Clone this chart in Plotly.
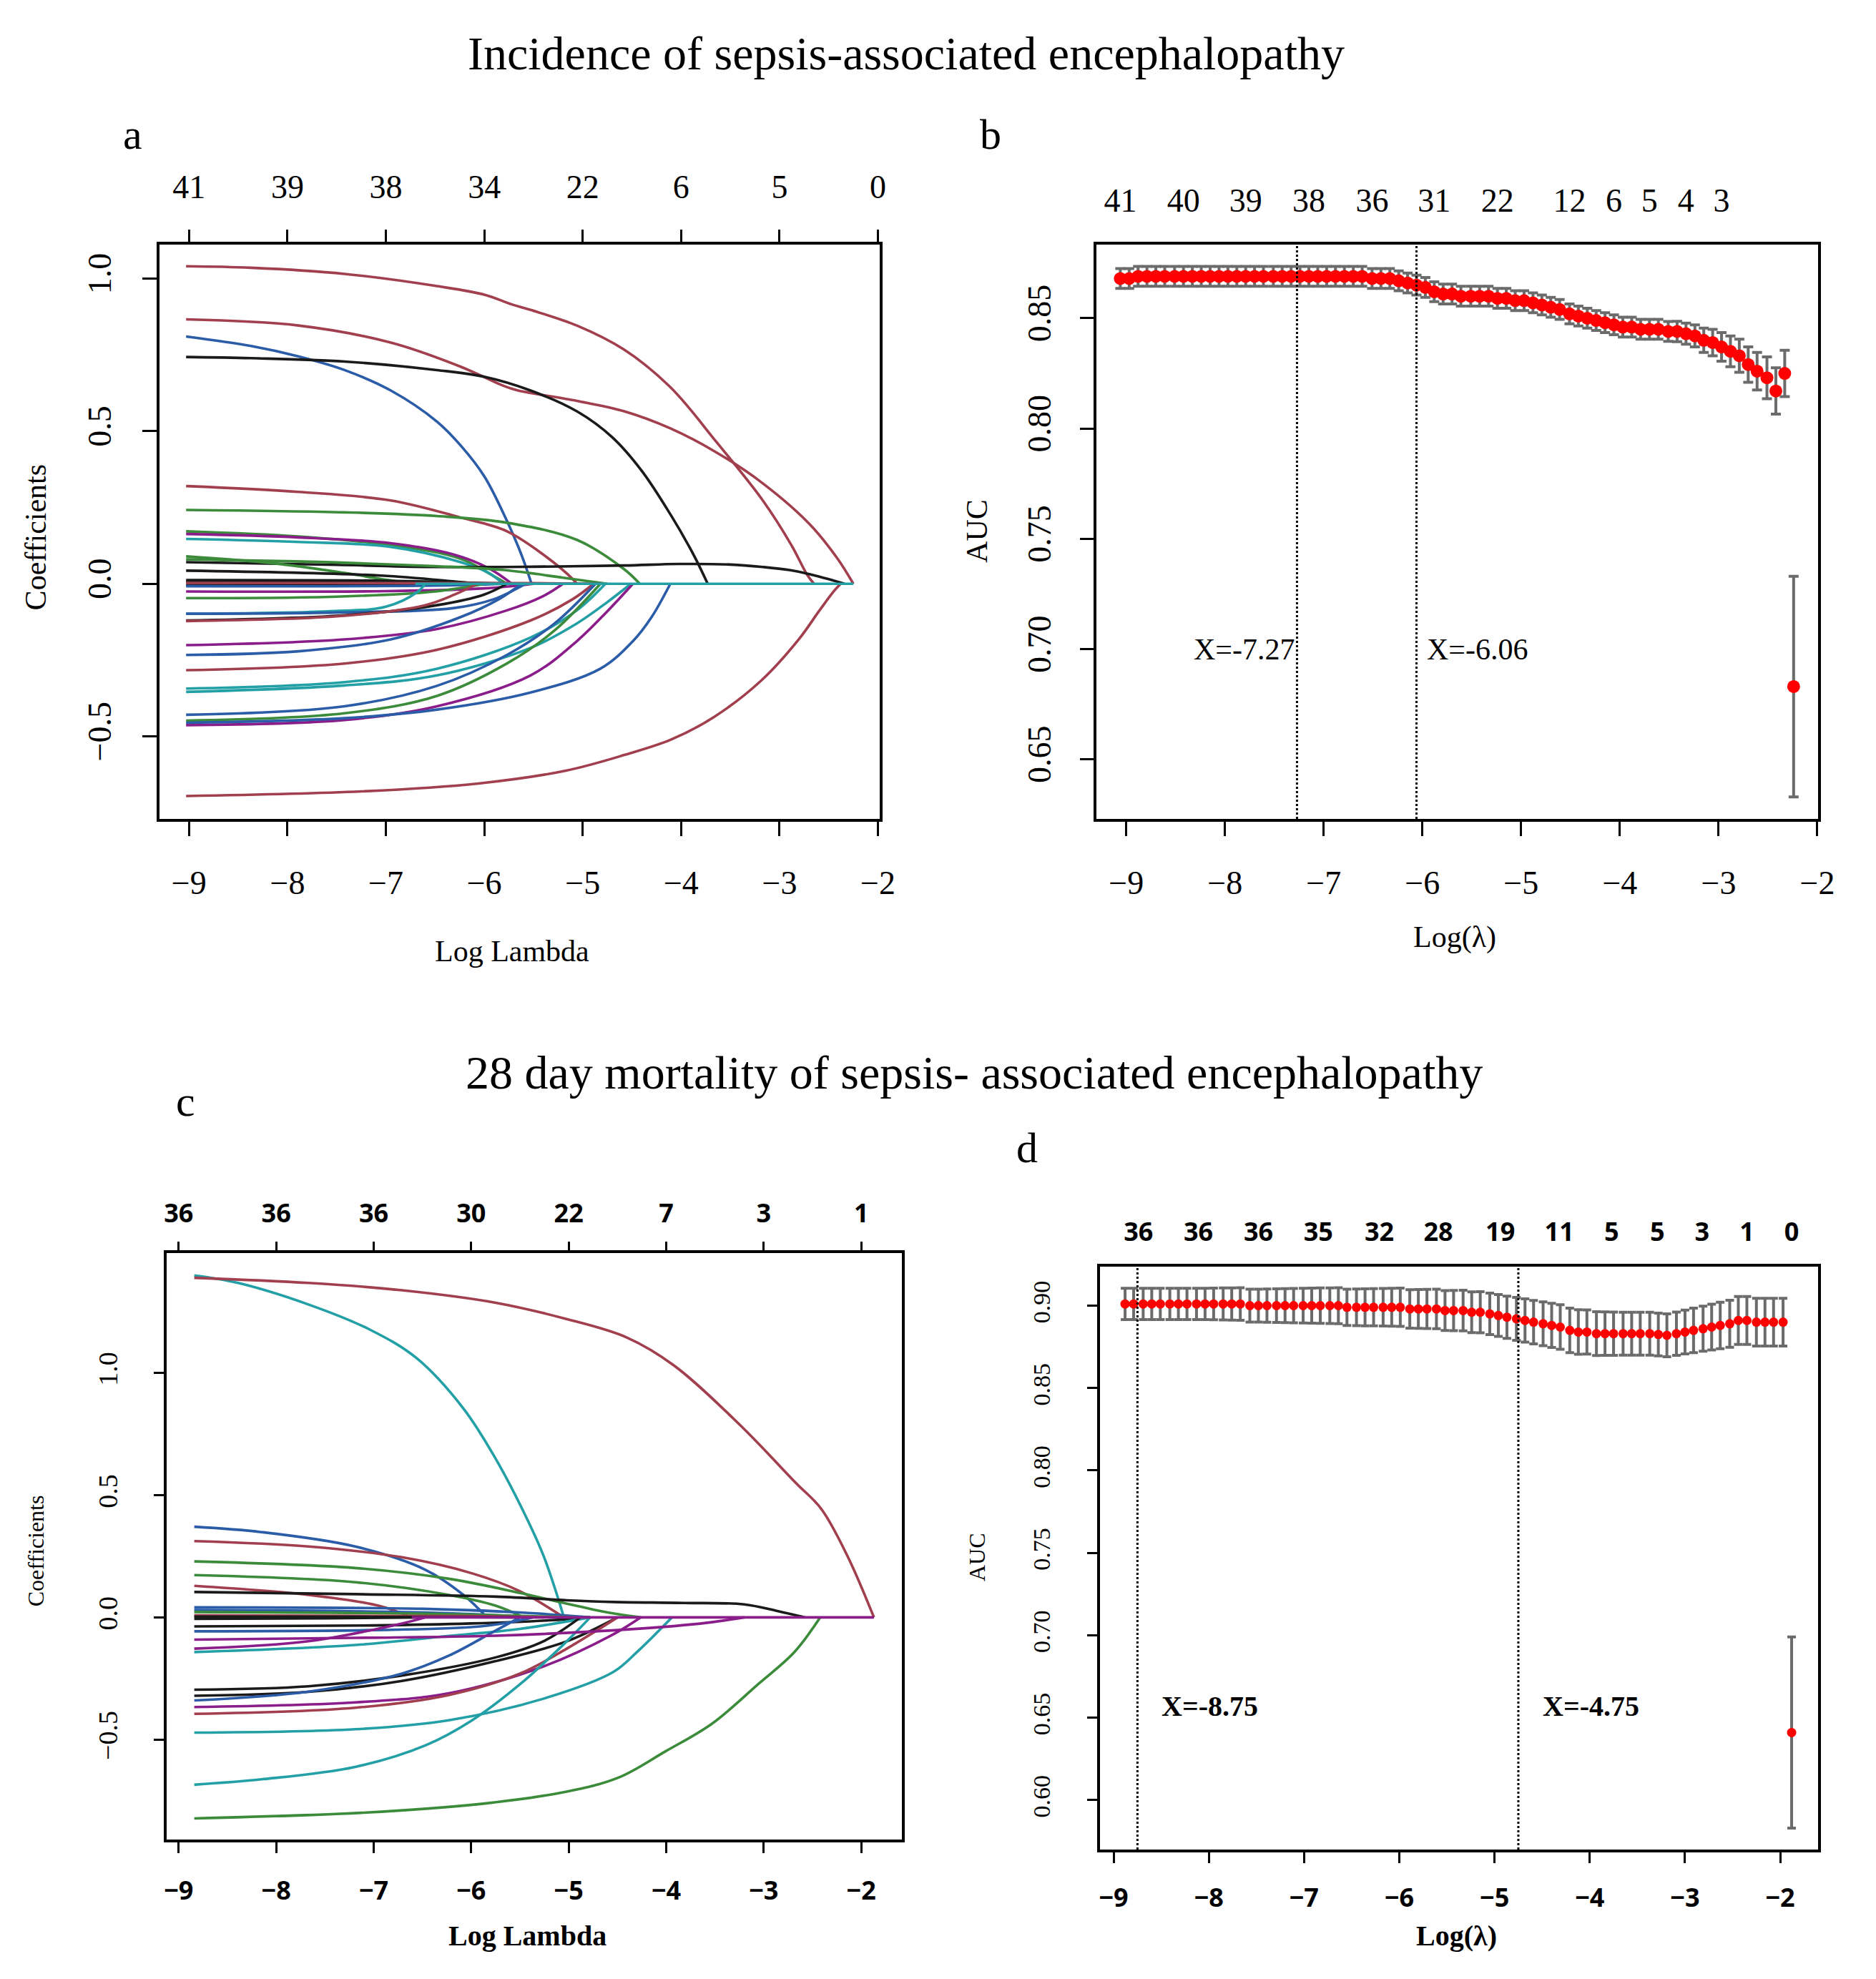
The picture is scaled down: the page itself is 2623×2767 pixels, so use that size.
import plotly.graph_objects as go

# ---------------- colours used by the coefficient paths ----------------
K = "#1a1a1a"
R = "#a23f4e"
G = "#3b8b3b"
B = "#2b5ca8"
C = "#23a0a6"
P = "#8a1d8a"

# ---------------- panel a: coefficient paths, incidence ----------------
loglam_end_a = -2.25
top_at_a = [-9, -8, -7, -6, -5, -4, -3, -2]
top_nz_a = ["41", "39", "38", "34", "22", "6", "5", "0"]
coef_paths_a = [
    (R, [-9.03, -8.37, -7.42, -6.48, -6.0, -5.72, -5.53, -5.06, -4.58, -4.11, -3.64, -3.17, -2.88, -2.72, -2.65],
        [1.04, 1.035, 1.015, 0.975, 0.947, 0.915, 0.897, 0.846, 0.767, 0.644, 0.464, 0.273, 0.127, 0.03, 0]),
    (R, [-9.03, -7.89, -6.95, -6.24, -5.81, -5.67, -5.06, -4.58, -4.11, -3.64, -3.17, -2.69, -2.41, -2.25],
        [0.866, 0.846, 0.79, 0.711, 0.649, 0.634, 0.599, 0.565, 0.509, 0.43, 0.329, 0.194, 0.082, 0]),
    (B, [-9.03, -8.37, -7.89, -7.42, -6.95, -6.48, -6.24, -6.0, -5.77, -5.62, -5.52],
        [0.81, 0.779, 0.745, 0.70, 0.633, 0.531, 0.453, 0.352, 0.206, 0.093, 0]),
    (K, [-9.03, -8.37, -7.42, -6.48, -6.0, -5.53, -5.06, -4.7, -4.4, -4.11, -3.87, -3.73],
        [0.743, 0.739, 0.728, 0.70, 0.678, 0.633, 0.565, 0.48, 0.37, 0.228, 0.093, 0]),
    (R, [-9.03, -7.89, -6.95, -6.24, -5.77, -5.39, -5.1, -5.06],
        [0.32, 0.301, 0.273, 0.217, 0.172, 0.093, 0.015, 0]),
    (G, [-9.03, -7.42, -6.48, -5.77, -5.06, -4.58, -4.42],
        [0.242, 0.234, 0.222, 0.2, 0.144, 0.048, 0]),
    (G, [-9.03, -7.89, -6.95, -6.24, -5.91, -5.77],
        [0.172, 0.155, 0.127, 0.082, 0.026, 0]),
    (P, [-9.03, -7.89, -6.95, -6.3, -5.95, -5.72],
        [0.163, 0.152, 0.133, 0.095, 0.05, 0]),
    (C, [-9.03, -7.89, -6.95, -6.24, -5.95, -5.81],
        [0.147, 0.137, 0.121, 0.071, 0.035, 0]),
    (K, [-9.03, -7.5, -6.48, -5.5, -4.58, -4.02, -3.5, -3.17, -2.9, -2.69, -2.5, -2.34],
        [0.071, 0.062, 0.055, 0.056, 0.06, 0.065, 0.063, 0.055, 0.045, 0.031, 0.015, 0]),
    (G, [-9.03, -8.14, -7.41, -7.05, -6.7],
        [0.09, 0.067, 0.035, 0.016, 0]),
    (G, [-9.03, -7.5, -6.5, -5.8, -5.2, -4.75],
        [0.08, 0.07, 0.058, 0.045, 0.02, 0]),
    (K, [-9.03, -7.05, -6.32, -6.07],
        [0.043, 0.027, 0.008, 0]),
    (K, [-9.03, -7.0, -6.2, -5.8],
        [0.012, 0.01, 0.004, 0]),
    (K, [-9.03, -6.5, -5.5],
        [0.006, 0.004, 0]),
    (K, [-9.03, -7.0, -6.0],
        [-0.004, -0.003, 0]),
    (R, [-9.03, -5.5, -4.8],
        [0.003, 0.002, 0]),
    (B, [-9.03, -6.5, -5.8],
        [-0.008, -0.006, 0]),
    (P, [-9.03, -7.0, -6.0, -5.5],
        [-0.025, -0.024, -0.015, 0]),
    (G, [-9.03, -7.5, -6.5, -6.0],
        [-0.047, -0.042, -0.025, 0]),
    (C, [-9.03, -7.6, -7.0, -6.68, -6.6],
        [-0.098, -0.09, -0.075, -0.027, 0]),
    (B, [-9.03, -7.5, -6.32, -5.9, -5.58],
        [-0.098, -0.094, -0.08, -0.05, 0]),
    (K, [-9.03, -7.42, -6.48, -6.0, -5.77],
        [-0.12, -0.103, -0.07, -0.035, 0]),
    (R, [-9.03, -7.42, -6.6, -6.3, -6.07],
        [-0.122, -0.105, -0.07, -0.035, 0]),
    (P, [-9.03, -7.42, -6.48, -5.77, -5.4, -5.2],
        [-0.201, -0.182, -0.148, -0.087, -0.04, 0]),
    (B, [-9.03, -7.89, -6.95, -6.24, -5.85, -5.62],
        [-0.233, -0.221, -0.182, -0.109, -0.05, 0]),
    (R, [-9.03, -7.42, -6.48, -5.53, -5.1, -4.89],
        [-0.283, -0.261, -0.216, -0.12, -0.05, 0]),
    (C, [-9.03, -7.42, -6.48, -5.53, -5.06, -4.77],
        [-0.343, -0.322, -0.278, -0.176, -0.087, 0]),
    (C, [-9.03, -7.42, -6.48, -5.53, -5.06, -4.75, -4.51],
        [-0.354, -0.333, -0.30, -0.21, -0.13, -0.06, 0]),
    (B, [-9.03, -7.42, -6.48, -5.77, -5.29, -4.87],
        [-0.429, -0.401, -0.334, -0.233, -0.131, 0]),
    (G, [-9.03, -7.42, -6.48, -5.77, -5.29, -4.82],
        [-0.448, -0.424, -0.367, -0.261, -0.154, 0]),
    (P, [-9.03, -7.42, -6.48, -5.53, -5.06, -4.75, -4.49],
        [-0.463, -0.446, -0.401, -0.30, -0.188, -0.09, 0]),
    (B, [-9.03, -7.42, -6.48, -5.53, -4.82, -4.49, -4.3, -4.11],
        [-0.455, -0.44, -0.412, -0.356, -0.278, -0.188, -0.109, 0]),
    (R, [-9.03, -7.25, -6.06, -5.17, -4.57, -4.1, -3.66, -3.18, -2.8, -2.6, -2.45, -2.38],
        [-0.695, -0.68, -0.654, -0.612, -0.56, -0.51, -0.435, -0.315, -0.18, -0.09, -0.025, 0]),
]

# ---------------- panel b: cross-validated AUC, incidence ----------------
loglam_b = [-9.06, -8.97, -8.88, -8.79, -8.70, -8.61, -8.51, -8.42, -8.33, -8.24,
            -8.15, -8.06, -7.97, -7.88, -7.79, -7.70, -7.61, -7.51, -7.42, -7.33,
            -7.24, -7.15, -7.06, -6.97, -6.88, -6.79, -6.70, -6.61, -6.51, -6.42,
            -6.33, -6.24, -6.15, -6.06, -5.97, -5.88, -5.79, -5.70, -5.61, -5.51,
            -5.42, -5.33, -5.24, -5.15, -5.06, -4.97, -4.88, -4.79, -4.70, -4.61,
            -4.51, -4.42, -4.33, -4.24, -4.15, -4.06, -3.97, -3.88, -3.79, -3.70,
            -3.61, -3.51, -3.42, -3.33, -3.24, -3.15, -3.06, -2.97, -2.88, -2.79,
            -2.70, -2.61, -2.51, -2.42, -2.33, -2.24]
auc_b = [0.868, 0.868, 0.869, 0.869, 0.869, 0.869, 0.869, 0.869, 0.869, 0.869,
         0.869, 0.869, 0.869, 0.869, 0.869, 0.869, 0.869, 0.869, 0.869, 0.869,
         0.869, 0.869, 0.869, 0.869, 0.869, 0.869, 0.869, 0.869, 0.868, 0.868,
         0.868, 0.867, 0.866, 0.865, 0.864, 0.862, 0.861, 0.861, 0.860, 0.860,
         0.860, 0.860, 0.859, 0.859, 0.858, 0.858, 0.857, 0.856, 0.855, 0.854,
         0.852, 0.851, 0.850, 0.849, 0.848, 0.847, 0.846, 0.846, 0.845, 0.845,
         0.845, 0.844, 0.844, 0.843, 0.842, 0.840, 0.839, 0.837, 0.835, 0.833,
         0.829, 0.826, 0.823, 0.817, 0.825, 0.683]
se_b = [0.0045, 0.0045, 0.0045, 0.0045, 0.0045, 0.0045, 0.0045, 0.0045, 0.0045, 0.0045,
        0.0045, 0.0045, 0.0045, 0.0045, 0.0045, 0.0045, 0.0045, 0.0045, 0.0045, 0.0045,
        0.0045, 0.0045, 0.0045, 0.0045, 0.0045, 0.0045, 0.0045, 0.0045, 0.0045, 0.0045,
        0.0045, 0.0045, 0.0045, 0.0045, 0.0045, 0.0045, 0.0045, 0.0045, 0.0045, 0.0045,
        0.0045, 0.0045, 0.0045, 0.0045, 0.0045, 0.0045, 0.0045, 0.0045, 0.0045, 0.0045,
        0.0045, 0.0045, 0.0045, 0.0045, 0.0045, 0.0045, 0.0045, 0.0045, 0.0045, 0.0045,
        0.0045, 0.0045, 0.0046, 0.0048, 0.0050, 0.0055, 0.0060, 0.0065, 0.0070, 0.0075,
        0.0080, 0.0085, 0.0095, 0.0105, 0.0105, 0.0500]
top_at_b = [-9.06, -8.42, -7.79, -7.15, -6.51, -5.88, -5.24, -4.51, -4.06, -3.70, -3.33, -2.97]
top_nz_b = ["41", "40", "39", "38", "36", "31", "22", "12", "6", "5", "4", "3"]
vlines_b = [-7.27, -6.06]
vlabel_y_b = 0.70

# ---------------- panel c: coefficient paths, 28 day mortality ----------------
loglam_end_c = -1.87
top_at_c = [-9, -8, -7, -6, -5, -4, -3, -2]
top_nz_c = ["36", "36", "36", "30", "22", "7", "3", "1"]
coef_paths_c = [
    (C, [-8.84, -8.39, -7.67, -7.04, -6.56, -6.08, -5.75, -5.46, -5.26, -5.12, -5.05],
        [1.40, 1.369, 1.281, 1.178, 1.061, 0.855, 0.65, 0.43, 0.254, 0.092, 0]),
    (R, [-8.84, -7.67, -6.71, -5.75, -5.03, -4.40, -3.92, -3.25, -2.67, -2.41, -2.14, -1.87],
        [1.39, 1.369, 1.339, 1.288, 1.222, 1.145, 1.031, 0.79, 0.55, 0.444, 0.25, 0]),
    (B, [-8.84, -8.15, -7.19, -6.47, -6.08, -5.84],
        [0.371, 0.349, 0.29, 0.195, 0.092, 0]),
    (R, [-8.84, -7.67, -6.71, -5.99, -5.5, -5.05],
        [0.312, 0.29, 0.246, 0.18, 0.107, 0]),
    (G, [-8.84, -7.19, -6.23, -5.5, -5.02, -4.6, -4.26],
        [0.229, 0.202, 0.158, 0.10, 0.056, 0.02, 0]),
    (G, [-8.84, -7.19, -6.23, -5.75, -5.46],
        [0.173, 0.144, 0.092, 0.048, 0]),
    (R, [-8.84, -7.67, -6.95, -6.61],
        [0.129, 0.092, 0.048, 0]),
    (K, [-8.84, -7.19, -5.75, -5.02, -4.54, -3.82, -3.2, -2.86, -2.58],
        [0.104, 0.095, 0.085, 0.07, 0.063, 0.059, 0.053, 0.026, 0]),
    (B, [-8.84, -6.5, -5.5, -4.78],
        [0.041, 0.035, 0.02, 0]),
    (B, [-8.84, -6.5, -5.26],
        [0.03, 0.02, 0]),
    (G, [-8.84, -6.5, -4.93],
        [0.022, 0.015, 0]),
    (R, [-8.84, -6.0, -5.0],
        [0.008, 0.005, 0]),
    (K, [-8.84, -7.0, -5.5],
        [0.003, 0.002, 0]),
    (K, [-8.84, -7.5, -6.5],
        [-0.006, -0.004, 0]),
    (K, [-8.84, -7.0, -6.0, -5.2, -4.78],
        [-0.037, -0.033, -0.025, -0.012, 0]),
    (B, [-8.84, -7.0, -6.0, -5.6, -5.36],
        [-0.057, -0.052, -0.04, -0.02, 0]),
    (P, [-8.84, -7.67, -6.71, -6.47],
        [-0.128, -0.098, -0.025, 0]),
    (C, [-8.84, -7.19, -6.23, -5.5, -4.78],
        [-0.142, -0.113, -0.076, -0.047, 0]),
    (K, [-8.84, -7.67, -6.71, -5.75, -5.26, -4.88],
        [-0.296, -0.282, -0.238, -0.164, -0.098, 0]),
    (K, [-8.84, -7.67, -6.71, -5.75, -5.02, -4.5],
        [-0.321, -0.305, -0.26, -0.179, -0.098, 0]),
    (B, [-8.84, -7.67, -6.71, -6.23, -5.75, -5.5],
        [-0.34, -0.304, -0.23, -0.157, -0.054, 0]),
    (P, [-8.84, -7.19, -6.23, -5.26, -4.54, -4.26],
        [-0.367, -0.348, -0.311, -0.201, -0.069, 0]),
    (R, [-8.84, -7.19, -6.23, -5.5, -5.02, -4.5],
        [-0.395, -0.37, -0.318, -0.23, -0.128, 0]),
    (C, [-8.84, -7.19, -6.23, -5.26, -4.54, -4.3, -3.94],
        [-0.472, -0.458, -0.421, -0.333, -0.223, -0.142, 0]),
    (C, [-8.84, -8.15, -7.19, -6.47, -5.99, -5.5, -5.02, -4.78],
        [-0.685, -0.663, -0.612, -0.524, -0.421, -0.274, -0.098, 0]),
    (G, [-8.84, -7.13, -5.93, -5.03, -4.49, -4.01, -3.53, -3.05, -2.69, -2.42],
        [-0.823, -0.80, -0.765, -0.714, -0.656, -0.549, -0.435, -0.271, -0.144, 0]),
    (P, [-8.84, -7.19, -5.75, -4.3, -3.58, -3.2],
        [-0.091, -0.084, -0.075, -0.047, -0.022, 0]),
]

# ---------------- panel d: cross-validated AUC, 28 day mortality ----------------
loglam_d = [-8.88, -8.79, -8.69, -8.60, -8.51, -8.41, -8.32, -8.23, -8.13, -8.04,
            -7.95, -7.85, -7.76, -7.67, -7.57, -7.48, -7.39, -7.29, -7.20, -7.11,
            -7.01, -6.92, -6.83, -6.73, -6.64, -6.55, -6.45, -6.36, -6.27, -6.17,
            -6.08, -5.99, -5.89, -5.80, -5.71, -5.61, -5.52, -5.43, -5.33, -5.24,
            -5.15, -5.05, -4.96, -4.87, -4.77, -4.68, -4.59, -4.49, -4.40, -4.31,
            -4.21, -4.12, -4.03, -3.93, -3.84, -3.75, -3.65, -3.56, -3.47, -3.37,
            -3.28, -3.19, -3.09, -3.00, -2.91, -2.81, -2.72, -2.63, -2.53, -2.44,
            -2.35, -2.25, -2.16, -2.07, -1.97, -1.88]
auc_d = [0.901, 0.901, 0.901, 0.901, 0.901, 0.901, 0.901, 0.901, 0.901, 0.901,
         0.901, 0.901, 0.901, 0.901, 0.900, 0.900, 0.900, 0.900, 0.900, 0.900,
         0.900, 0.900, 0.900, 0.900, 0.900, 0.899, 0.899, 0.899, 0.899, 0.899,
         0.899, 0.899, 0.898, 0.898, 0.898, 0.898, 0.897, 0.897, 0.897, 0.896,
         0.896, 0.895, 0.894, 0.893, 0.892, 0.891, 0.890, 0.889, 0.888, 0.887,
         0.885, 0.884, 0.884, 0.883, 0.883, 0.883, 0.883, 0.883, 0.883, 0.883,
         0.8825, 0.882, 0.883, 0.884, 0.885, 0.886, 0.887, 0.888, 0.889, 0.891,
         0.891, 0.890, 0.890, 0.890, 0.890, 0.641]
se_d = [0.0095, 0.0095, 0.0095, 0.0095, 0.0095, 0.0095, 0.0095, 0.0095, 0.0095, 0.0095,
        0.0096, 0.0097, 0.0098, 0.0099, 0.0100, 0.0100, 0.0101, 0.0102, 0.0103, 0.0104,
        0.0105, 0.0106, 0.0107, 0.0108, 0.0109, 0.0110, 0.0111, 0.0112, 0.0113, 0.0114,
        0.0115, 0.0116, 0.0117, 0.0118, 0.0119, 0.0120, 0.0121, 0.0122, 0.0123, 0.0124,
        0.0125, 0.0126, 0.0127, 0.0128, 0.0130, 0.0131, 0.0132, 0.0133, 0.0134, 0.0135,
        0.0135, 0.0135, 0.0134, 0.0133, 0.0132, 0.0131, 0.0130, 0.0130, 0.0130, 0.0130,
        0.0130, 0.0130, 0.0131, 0.0133, 0.0135, 0.0137, 0.0139, 0.0141, 0.0143, 0.0145,
        0.0145, 0.0145, 0.0145, 0.0145, 0.0145, 0.0580]
top_at_d = [-8.74, -8.11, -7.48, -6.85, -6.21, -5.59, -4.94, -4.32, -3.77, -3.29, -2.82, -2.35, -1.88]
top_nz_d = ["36", "36", "36", "35", "32", "28", "19", "11", "5", "5", "3", "1", "0"]
vlines_d = [-8.75, -4.75]
vlabel_y_d = 0.657

SERIF = "Liberation Serif"
SANS = "Open Sans"
fig = go.Figure()


def add_paths(paths, xa, ya, x_end, zero_col):
    for col, xs, ys in paths:
        fig.add_trace(go.Scatter(x=xs, y=ys, mode="lines", xaxis=xa, yaxis=ya,
                                 line=dict(color=col, width=3.6, shape="spline", smoothing=1.0),
                                 showlegend=False, hoverinfo="skip"))
    # every coefficient is exactly zero right of the point where it leaves the model
    x0 = min(xs[-1] for _, xs, _ in paths)
    fig.add_trace(go.Scatter(x=[x0, x_end], y=[0, 0], mode="lines", xaxis=xa, yaxis=ya,
                             line=dict(color=zero_col, width=3.6), showlegend=False, hoverinfo="skip"))


def add_cv(xs, auc, se, xa, ya, msize, cap):
    fig.add_trace(go.Scatter(x=xs, y=auc, mode="markers", xaxis=xa, yaxis=ya,
                             marker=dict(color="#ff0000", size=msize),
                             error_y=dict(type="data", array=se, color="#6b6b6b", thickness=4, width=cap),
                             showlegend=False, hoverinfo="skip"))


def add_top_holder(xs, xa, ya):
    # empty trace so that the overlaying top axis (number of non-zero coefficients) is drawn
    fig.add_trace(go.Scatter(x=xs, y=[None] * len(xs), mode="markers", xaxis=xa, yaxis=ya,
                             showlegend=False, hoverinfo="skip"))


add_paths(coef_paths_a, "x", "y", loglam_end_a, C)
add_cv(loglam_b, auc_b, se_b, "x2", "y2", 18, 7)
add_paths(coef_paths_c, "x3", "y3", loglam_end_c, P)
add_cv(loglam_d, auc_d, se_d, "x4", "y4", 13, 6)
add_top_holder(top_at_a, "x5", "y")
add_top_holder(top_at_b, "x6", "y2")
add_top_holder(top_at_c, "x7", "y3")
add_top_holder(top_at_d, "x8", "y4")


def frame_x(dom, rng, tickvals, font, standoff, ticklen, anchor):
    return dict(domain=dom, range=rng, anchor=anchor, tickvals=tickvals, ticks="outside",
                ticklen=ticklen, tickwidth=3, tickcolor="black", showline=True, linecolor="black",
                linewidth=3.5, mirror=True, showgrid=False, zeroline=False, tickfont=font,
                ticklabelstandoff=standoff)


def frame_y(dom, rng, tickvals, ticktext, font, standoff, ticklen, anchor):
    return dict(domain=dom, range=rng, anchor=anchor, tickvals=tickvals, ticktext=ticktext,
                ticks="outside", ticklen=ticklen, tickwidth=3, tickcolor="black", showline=True,
                linecolor="black", linewidth=3.5, mirror=True, showgrid=False, zeroline=False,
                tickfont=font, tickangle=-90, ticklabelstandoff=standoff)


def top_x(over, rng, tickvals, ticktext, font, standoff, ticklen, anchor):
    return dict(overlaying=over, side="top", anchor=anchor, range=rng, tickvals=tickvals,
                ticktext=ticktext, ticks="outside" if ticklen else "", ticklen=ticklen, tickwidth=3,
                tickcolor="black", showline=False, showgrid=False, zeroline=False, tickfont=font,
                ticklabelstandoff=standoff)


f_ab = dict(family=SERIF, size=46, color="black")
f_cd = dict(family=SANS, size=36, color="black", weight="bold")
f_cd_y = dict(family=SERIF, size=38, color="black")
f_d_y = dict(family=SERIF, size=34, color="black")
int_ticks = [-9, -8, -7, -6, -5, -4, -3, -2]

dom_a = [0.0813, 0.4693]
dom_b = [0.586, 0.9747]
dom_top = [0.5891, 0.8793]
dom_c = [0.0853, 0.4813]
dom_d = [0.588, 0.9747]
dom_c_y = [0.0733, 0.3698]
dom_d_y = [0.0683, 0.3628]

rng_a = [-9.30, -1.98]
rng_b = [-9.30, -1.99]
rng_c = [-9.12, -1.58]
rng_d = [-9.14, -1.60]

fig.update_layout(
    width=2623, height=2767, margin=dict(l=0, r=0, t=0, b=0),
    paper_bgcolor="white", plot_bgcolor="white", showlegend=False,
    xaxis=frame_x(dom_a, rng_a, int_ticks, f_ab, 26, 20, "y"),
    yaxis=frame_y(dom_top, [-0.77, 1.111], [-0.5, 0, 0.5, 1.0], ["\u22120.5", "0.0", "0.5", "1.0"], f_ab, 26, 20, "x"),
    xaxis2=frame_x(dom_b, rng_b, int_ticks, f_ab, 26, 20, "y2"),
    yaxis2=frame_y(dom_top, [0.623, 0.8834], [0.65, 0.70, 0.75, 0.80, 0.85],
                   ["0.65", "0.70", "0.75", "0.80", "0.85"], f_ab, 22, 20, "x2"),
    xaxis3=frame_x(dom_c, rng_c, int_ticks, f_cd, 22, 15, "y3"),
    yaxis3=frame_y(dom_c_y, [-0.91, 1.492], [-0.5, 0, 0.5, 1.0], ["\u22120.5", "0.0", "0.5", "1.0"], f_cd_y, 36, 15, "x3"),
    xaxis4=frame_x(dom_d, rng_d, int_ticks, f_cd, 18, 15, "y4"),
    yaxis4=frame_y(dom_d_y, [0.570, 0.9236], [0.60, 0.65, 0.70, 0.75, 0.80, 0.85, 0.90],
                   ["0.60", "0.65", "0.70", "0.75", "0.80", "0.85", "0.90"], f_d_y, 38, 15, "x4"),
    xaxis5=top_x("x", rng_a, top_at_a, top_nz_a, f_ab, 26, 20, "y"),
    xaxis6=top_x("x2", rng_b, top_at_b, top_nz_b, f_ab, 36, 0, "y2"),
    xaxis7=top_x("x3", rng_c, top_at_c, top_nz_c, f_cd, 12, 15, "y3"),
    xaxis8=top_x("x4", rng_d, top_at_d, top_nz_d, f_cd, 28, 0, "y4"),
)

# dotted reference lines at the selected lambdas
for xa, ya, vals in (("x2", "y2", vlines_b), ("x4", "y4", vlines_d)):
    for v in vals:
        fig.add_shape(type="line", xref=xa, yref=ya + " domain", x0=v, x1=v, y0=0, y1=1,
                      line=dict(color="black", width=3, dash="dot"))

ann = []
ann.append(dict(x=vlines_b[0], y=vlabel_y_b, xref="x2", yref="y2", text=f"X={vlines_b[0]}",
                xanchor="right", font=dict(family=SERIF, size=42, color="black")))
ann.append(dict(x=vlines_b[1], y=vlabel_y_b, xref="x2", yref="y2", text=f"X={vlines_b[1]:.2f}",
                xanchor="left", xshift=12, font=dict(family=SERIF, size=42, color="black")))
for v in vlines_d:
    ann.append(dict(x=v, y=vlabel_y_d, xref="x4", yref="y4", text=f"X={v:.2f}", xanchor="left",
                    xshift=32, font=dict(family=SERIF, size=40, color="black", weight="bold")))

plain = dict(family=SERIF, size=42, color="black")
bold = dict(family=SERIF, size=40, color="black", weight="bold")
big = dict(family=SERIF, size=66, color="black")
letter = dict(family=SERIF, size=60, color="black")
texts = [
    ("Incidence of sepsis-associated encephalopathy", 0.4833, 0.976, 0, big),
    ("28 day mortality of sepsis- associated encephalopathy", 0.52, 0.4608, 0, big),
    ("a", 0.0667, 0.9349, 0, letter),
    ("b", 0.5287, 0.9349, 0, letter),
    ("c", 0.0953, 0.4463, 0, letter),
    ("d", 0.5487, 0.4229, 0, letter),
    ("Log Lambda", 0.2713, 0.5221, 0, plain),
    ("Coefficients", 0.0147, 0.7314, -90, plain),
    ("Log(\u03bb)", 0.7787, 0.5291, 0, plain),
    ("AUC", 0.5213, 0.7345, -90, plain),
    ("Log Lambda", 0.2793, 0.0247, 0, bold),
    ("Coefficients", 0.0147, 0.2193, -90, dict(family=SERIF, size=32, color="black")),
    ("Log(\u03bb)", 0.78, 0.0247, 0, bold),
    ("AUC", 0.5213, 0.2162, -90, dict(family=SERIF, size=32, color="black")),
]
for t, x, y, ang, f in texts:
    ann.append(dict(text=t, x=x, y=y, xref="paper", yref="paper", showarrow=False,
                    textangle=ang, xanchor="center", yanchor="middle", font=f))
for a in ann:
    a.setdefault("showarrow", False)
fig.update_layout(annotations=ann)

fig.write_html("out.html")
